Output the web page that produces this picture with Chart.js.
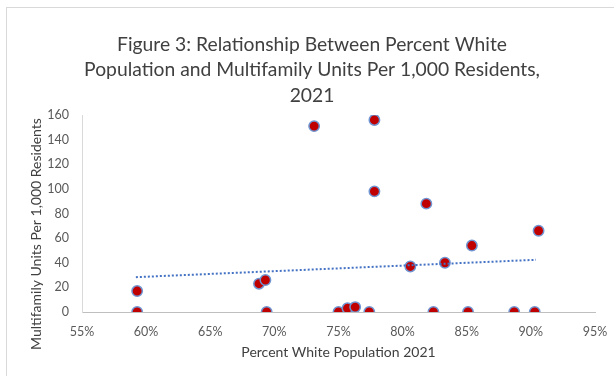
<!DOCTYPE html>
<html>
<head>
<meta charset="utf-8">
<script src="https://cdn.jsdelivr.net/npm/chart.js@4.4.1/dist/chart.umd.min.js"></script>
<style>
  html, body { margin: 0; padding: 0; background: #ffffff; }
  #wrap { width: 614px; height: 376px; position: relative; }
</style>
</head>
<body>
<div id="wrap"><canvas id="c" width="614" height="376"></canvas></div>
<script>
// Data
const pctWhite = [59.3, 59.3, 68.8, 69.3, 69.4, 73.1, 75.0, 75.7, 76.3, 77.4, 77.8, 77.8, 80.6, 81.85, 82.4, 83.3, 85.1, 85.4, 88.7, 90.3, 90.6];
const unitsPer1000 = [0, 17, 23, 26, 0, 151, 0, 3, 4, 0, 156, 98, 37, 88, 0, 40, 0, 54, 0, 0, 66];
const trendX = [59.2, 90.4];
const trendY = [28.3, 42.4];
const xTickValues = [55, 60, 65, 70, 75, 80, 85, 90, 95];
const yTickValues = [0, 20, 40, 60, 80, 100, 120, 140, 160];
const titleLines = ['Figure 3: Relationship Between Percent White', 'Population and Multifamily Units Per 1,000 Residents,', '2021'];
const xTitle = 'Percent White Population 2021';
const yTitle = 'Multifamily Units Per 1,000 Residents';

const FONT = "Lato, 'Open Sans', sans-serif";

const scatterPts = pctWhite.map((x, i) => ({ x: x, y: unitsPer1000[i] }));
const trendPts = trendX.map((x, i) => ({ x: x, y: trendY[i] }));

const bgPlugin = {
  id: 'bg',
  beforeDraw(chart) {
    const ctx = chart.ctx;
    ctx.save();
    ctx.fillStyle = '#ffffff';
    ctx.fillRect(0, 0, chart.width, chart.height);
    ctx.strokeStyle = '#d9d9d9';
    ctx.lineWidth = 1;
    ctx.strokeRect(6.5, 7.5, 800, 800);
    ctx.restore();
  },
  afterDraw(chart) {
    // vertical axis title, placed as in the reference
    const ctx = chart.ctx;
    ctx.save();
    ctx.translate(36, 234);
    ctx.rotate(-Math.PI / 2);
    ctx.fillStyle = '#404040';
    ctx.font = '14px ' + FONT;
    ctx.textAlign = 'center';
    ctx.textBaseline = 'middle';
    ctx.fillText(yTitle, 0, 0);
    ctx.restore();
  }
};

new Chart(document.getElementById('c'), {
  type: 'scatter',
  data: {
    datasets: [
      {
        type: 'line',
        data: trendPts,
        borderColor: '#4472c4',
        borderWidth: 2,
        borderDash: [2, 2],
        borderCapStyle: 'butt',
        pointRadius: 0,
        fill: false,
        order: 0
      },
      {
        data: scatterPts,
        backgroundColor: '#c00000',
        borderColor: '#6f95d2',
        borderWidth: 1.5,
        pointRadius: 5.2,
        order: 1
      }
    ]
  },
  options: {
    responsive: false,
    animation: false,
    devicePixelRatio: 1,
    layout: { padding: { left: 29, right: 19, top: 0, bottom: 0 } },
    plugins: {
      legend: { display: false },
      tooltip: { enabled: false },
      title: {
        display: true,
        text: titleLines,
        color: '#404040',
        font: { family: FONT, size: 19.3, weight: 'normal', lineHeight: 1.32 },
        padding: { top: 32, bottom: 6.6 }
      }
    },
    scales: {
      x: {
        type: 'linear',
        min: 55, max: 95,
        afterBuildTicks(scale) { scale.ticks = xTickValues.map(v => ({ value: v })); },
        afterFit(scale) { scale.height = 64; scale.paddingLeft = 0; scale.paddingRight = 0; },
        ticks: {
          callback: v => v + '%',
          color: '#595959',
          font: { family: FONT, size: 12.5 },
          padding: 12,
          maxRotation: 0,
          autoSkip: false
        },
        grid: { display: false, drawTicks: false },
        border: { display: true, color: '#bfbfbf', width: 1 },
        title: {
          display: true,
          text: xTitle,
          color: '#404040',
          font: { family: FONT, size: 14 },
          padding: { top: 0, bottom: 15 }
        }
      },
      y: {
        type: 'linear',
        min: 0, max: 160,
        afterBuildTicks(scale) { scale.ticks = yTickValues.map(v => ({ value: v })); },
        afterFit(scale) { scale.width = 53; scale.paddingTop = 0; scale.paddingBottom = 0; },
        ticks: {
          color: '#595959',
          font: { family: FONT, size: 12.5 },
          padding: 13,
          autoSkip: false
        },
        grid: { display: false, drawTicks: false },
        border: { display: true, color: '#d9d9d9', width: 1 },
        title: { display: false }
      }
    }
  },
  plugins: [bgPlugin]
});
</script>
</body>
</html>
